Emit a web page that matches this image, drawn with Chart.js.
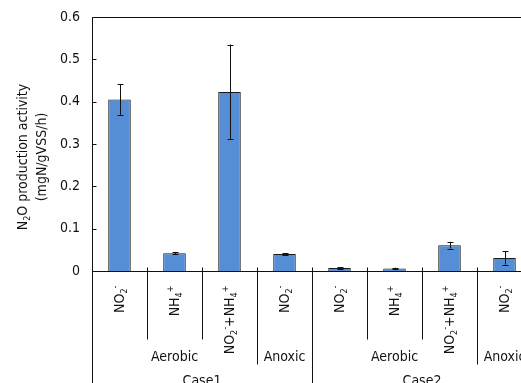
<!DOCTYPE html>
<html>
<head>
<meta charset="utf-8">
<script src="https://cdn.jsdelivr.net/npm/chart.js@4/dist/chart.umd.min.js"></script>
<style>
  html, body { margin: 0; padding: 0; background: #fff; overflow: hidden; }
  #wrap { width: 521px; height: 383px; overflow: hidden; }
</style>
</head>
<body>
<div id="wrap"><canvas id="chart" width="560" height="383"></canvas></div>
<script>
// N2O production activity per substrate, two cases, aerobic vs anoxic

const substrates = ["NO2-", "NH4+", "NO2-+NH4+", "NO2-", "NO2-", "NH4+", "NO2-+NH4+", "NO2-"];
const conditions = ["Aerobic", "Aerobic", "Aerobic", "Anoxic", "Aerobic", "Aerobic", "Aerobic", "Anoxic"];
const cases = ["Case1", "Case1", "Case1", "Case1", "Case2", "Case2", "Case2", "Case2"];
const activity = [0.405, 0.042, 0.423, 0.040, 0.007, 0.006, 0.061, 0.031];
const activityErr = [0.036, 0.002, 0.112, 0.002, 0.002, 0.002, 0.008, 0.016];
const yTicks = [0, 0.1, 0.2, 0.3, 0.4, 0.5, 0.6];
const yTitle = ["N2O production activity", "(mgN/gVSS/h)"];

const FONT = "'DejaVu Sans Condensed', 'DejaVu Sans', Arial, sans-serif";
const INK = "#111";

// split "NO2-" into runs: digit -> subscript, +/- right after a digit -> superscript
function runs(s) {
  const out = [];
  for (let i = 0; i < s.length; i++) {
    const c = s[i];
    let kind = "n";
    if (/[0-9]/.test(c)) kind = "sub";
    else if ((c === "+" || c === "-") && i > 0 && /[0-9]/.test(s[i - 1])) kind = "sup";
    const last = out[out.length - 1];
    if (last && last.kind === kind) last.text += c;
    else out.push({ text: c, kind });
  }
  return out;
}

function runsWidth(ctx, parts, size) {
  let w = 0;
  for (const p of parts) {
    ctx.font = (p.kind === "n" ? size : Math.round(size * 0.65)) + "px " + FONT;
    w += ctx.measureText(p.text).width;
  }
  return w;
}

// draws runs starting at (0,0) along +x with baseline 'middle'
function drawRuns(ctx, parts, size) {
  let x = 0;
  for (const p of parts) {
    const small = p.kind !== "n";
    ctx.font = (small ? Math.round(size * 0.65) : size) + "px " + FONT;
    const dy = p.kind === "sub" ? size * 0.3 : p.kind === "sup" ? -size * 0.38 : 0;
    ctx.fillText(p.text, x, dy);
    x += ctx.measureText(p.text).width;
  }
}

const extras = {
  id: "extras",
  afterDatasetsDraw(chart) {
    const ctx = chart.ctx;
    const y = chart.scales.y;
    const meta = chart.getDatasetMeta(0);
    ctx.save();
    ctx.strokeStyle = INK;
    ctx.lineWidth = 1;
    meta.data.forEach((bar, i) => {
      const x = Math.round(bar.x) + 0.5;
      const hi = y.getPixelForValue(activity[i] + activityErr[i]);
      const lo = y.getPixelForValue(activity[i] - activityErr[i]);
      ctx.beginPath();
      ctx.moveTo(x, hi); ctx.lineTo(x, lo);
      ctx.moveTo(x - 3, Math.round(hi) + 0.5); ctx.lineTo(x + 3, Math.round(hi) + 0.5);
      ctx.moveTo(x - 3, Math.round(lo) + 0.5); ctx.lineTo(x + 3, Math.round(lo) + 0.5);
      ctx.stroke();
    });
    ctx.restore();
  },
  afterDraw(chart) {
    const ctx = chart.ctx;
    const a = chart.chartArea;
    const xs = chart.scales.x;
    const ys = chart.scales.y;
    const H = chart.height;
    const L = Math.round(a.left) + 0.5, R = a.right, T = Math.round(a.top) + 0.5, B = Math.round(a.bottom) + 0.5;
    ctx.save();
    ctx.strokeStyle = INK;
    ctx.lineWidth = 1;
    ctx.beginPath();
    // frame: top, left (runs down through the label tree), bottom axis
    ctx.moveTo(L, T); ctx.lineTo(R, T);
    ctx.moveTo(L, T); ctx.lineTo(L, H);
    ctx.moveTo(L, B); ctx.lineTo(R, B);
    // inward y ticks
    yTicks.forEach(v => {
      const py = Math.round(ys.getPixelForValue(v)) + 0.5;
      ctx.moveTo(L, py); ctx.lineTo(L + 4, py);
    });
    // category separators, longer where the group / case changes
    const step = (a.right - a.left) / substrates.length;
    for (let i = 1; i <= substrates.length; i++) {
      const px = Math.round(a.left + step * i) + 0.5;
      let end = B + 68;
      if (i === substrates.length || cases[i] !== cases[i - 1]) end = H;
      else if (conditions[i] !== conditions[i - 1]) end = B + 93;
      ctx.moveTo(px, B - 4); ctx.lineTo(px, end);
    }
    ctx.stroke();

    ctx.fillStyle = INK;
    // rotated substrate labels, top aligned
    substrates.forEach((s, i) => {
      const parts = runs(s);
      const w = runsWidth(ctx, parts, 14);
      ctx.save();
      ctx.translate(xs.getPixelForValue(i) + 1, B + 14 + w);
      ctx.rotate(-Math.PI / 2);
      ctx.textAlign = "left";
      ctx.textBaseline = "middle";
      drawRuns(ctx, parts, 14);
      ctx.restore();
    });

    // group labels: merge consecutive runs
    ctx.textAlign = "center";
    ctx.textBaseline = "middle";
    ctx.font = "14px " + FONT;
    function spans(keys) {
      const out = [];
      keys.forEach((k, i) => {
        const last = out[out.length - 1];
        if (last && last.key === k) last.to = i;
        else out.push({ key: k, from: i, to: i });
      });
      return out;
    }
    const pairKeys = conditions.map((c, i) => cases[i] + "|" + c);
    spans(pairKeys).forEach(sp => {
      const cx = a.left + step * (sp.from + sp.to + 1) / 2;
      ctx.fillText(sp.key.split("|")[1], cx, B + 86);
    });
    spans(cases).forEach(sp => {
      const cx = a.left + step * (sp.from + sp.to + 1) / 2;
      ctx.fillText(sp.key, cx, B + 110);
    });

    // y title, two rotated lines
    [[23, yTitle[0]], [42, yTitle[1]]].forEach(([tx, t]) => {
      const parts = runs(t);
      const w = runsWidth(ctx, parts, 14);
      ctx.save();
      ctx.translate(tx, 157 + w / 2);
      ctx.rotate(-Math.PI / 2);
      ctx.textAlign = "left";
      ctx.textBaseline = "middle";
      drawRuns(ctx, parts, 14);
      ctx.restore();
    });
    ctx.restore();
  }
};

new Chart(document.getElementById("chart"), {
  type: "bar",
  data: {
    labels: substrates,
    datasets: [{
      data: activity,
      backgroundColor: "#558ed5",
      borderColor: "#1a1a1a",
      borderWidth: 1,
      categoryPercentage: 1,
      barPercentage: 0.41,
    }],
  },
  options: {
    responsive: false,
    animation: false,
    events: [],
    layout: { padding: { left: 0, top: 17, right: 28, bottom: 112 } },
    plugins: { legend: { display: false }, tooltip: { enabled: false } },
    scales: {
      x: { display: false },
      y: {
        min: 0,
        max: 0.6,
        afterFit(scale) {
          scale.width = 92;
          scale.paddingTop = 0;
          scale.paddingBottom = 0;
        },
        afterBuildTicks(scale) { scale.ticks = yTicks.map(v => ({ value: v })); },
        border: { display: false },
        grid: { display: false, drawTicks: false },
        ticks: {
          padding: 12,
          color: INK,
          font: { family: FONT, size: 14 },
          callback: v => (v === 0 ? "0" : v.toFixed(1)),
        },
      },
    },
  },
  plugins: [extras],
});
</script>
</body>
</html>
